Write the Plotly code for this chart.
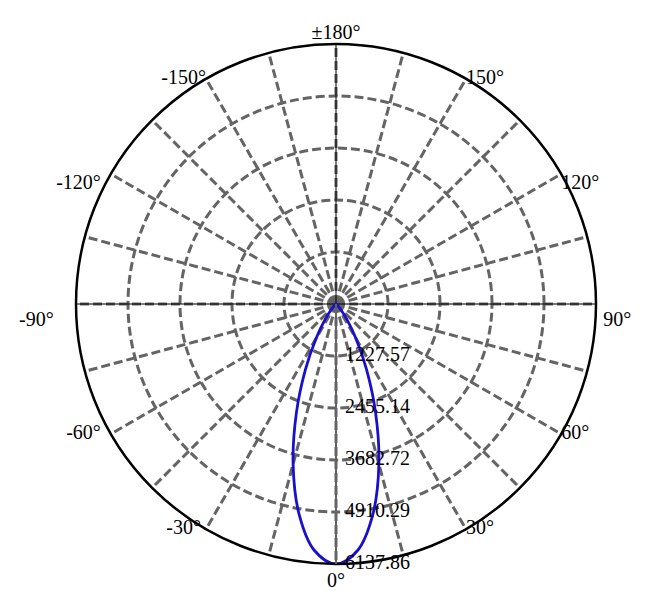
import plotly.graph_objects as go

# Angles (degrees, measured from 0° at bottom) and luminous intensity values
half_angles = [0, 5, 10, 15, 20, 25, 30, 35, 40, 45, 50, 55, 60, 70, 80, 90, 120, 150, 180]
half_values = [6137.86, 5841, 5030, 3912, 2734, 1709, 946, 459, 192, 68, 20, 5, 1, 0, 0, 0, 0, 0, 0]

radial_ticks = [1227.57, 2455.14, 3682.72, 4910.29, 6137.86]
radial_labels = ["1227.57", "2455.14", "3682.72", "4910.29", "6137.86"]

angle_grid = list(range(0, 360, 15))
angle_label_vals = [0, 30, 60, 90, 120, 150, 180, 210, 240, 270, 300, 330]
angle_label_text = ["0°", "30°", "60°", "90°", "120°", "150°",
                    "±180°", "-150°", "-120°", "-90°", "-60°", "-30°"]
angle_label_pos = ["bottom center", "middle right", "middle right", "bottom right",
                   "bottom right", "middle right", "top center", "middle left",
                   "bottom left", "bottom left", "middle left", "middle left"]
# small padding (in spaces) between rim and label
angle_label_pad = [0, 0, 0, 0, 0, 0, 0, 0, 2, 3, 2, 1]
# invisible marker sizes used only to push labels off the rim
angle_label_gap = [11, 0, 0, 10, 0, 0, 0, 0, 0, 10, 0, 0]

NBSP = "\u00a0"


def padded(txt, pos, n):
    if n == 0:
        return txt
    if pos.endswith("left"):
        return txt + NBSP * n
    if pos.endswith("right"):
        return NBSP * n + txt
    return txt


angle_label_display = [padded(t, p, n) for t, p, n in zip(angle_label_text, angle_label_pos, angle_label_pad)]

# full symmetric curve
theta = [-a for a in reversed(half_angles)] + half_angles[1:]
r = list(reversed(half_values)) + half_values[1:]

rmax = radial_ticks[-1]
grid_color = "rgb(100,100,100)"

fig = go.Figure()

# thin black axis cross
for a in [0, 90, 180, 270]:
    fig.add_trace(go.Scatterpolar(r=[0, rmax], theta=[a, a], mode="lines",
                                  line=dict(color="black", width=1), hoverinfo="skip",
                                  showlegend=False))

fig.add_trace(go.Scatterpolar(r=r, theta=theta, mode="lines",
                              line=dict(color="rgb(25,15,205)", width=2.8, shape="spline"),
                              showlegend=False))

font = dict(family="Liberation Serif, Times New Roman, serif", size=20, color="black")

# radial value labels along the 0° direction
fig.add_trace(go.Scatterpolar(r=radial_ticks, theta=[0] * len(radial_ticks), mode="text",
                              text=[NBSP + "\u2009" + t for t in radial_labels],
                              textposition="middle right",
                              textfont=font, hoverinfo="skip", showlegend=False,
                              cliponaxis=False))

# angular labels around the rim
fig.add_trace(go.Scatterpolar(r=[rmax] * len(angle_label_vals), theta=angle_label_vals,
                              mode="markers+text", text=angle_label_display,
                              marker=dict(size=angle_label_gap, color="rgba(0,0,0,0)",
                                          line=dict(width=0)),
                              textposition=angle_label_pos, textfont=font,
                              hoverinfo="skip", showlegend=False, cliponaxis=False))

fig.update_layout(
    width=668, height=608,
    margin=dict(l=68, r=80, t=36, b=52),
    paper_bgcolor="white",
    font=font,
    showlegend=False,
    polar=dict(
        bgcolor="white",
        domain=dict(x=[0, 1], y=[0, 1]),
        angularaxis=dict(
            rotation=270, direction="counterclockwise",
            tickmode="array", tickvals=angle_grid, showticklabels=False,
            showgrid=True, gridcolor=grid_color, griddash="9px,4px", gridwidth=2.6,
            showline=True, linecolor="black", linewidth=2.5,
            ticks="",
        ),
        radialaxis=dict(
            range=[0, rmax], angle=-90,
            tickmode="array", tickvals=radial_ticks, showticklabels=False,
            showgrid=True, gridcolor=grid_color, griddash="9px,4px", gridwidth=2.6,
            showline=True, linecolor=grid_color, linewidth=2,
            ticks="",
        ),
    ),
)

fig.write_html("out.html")
